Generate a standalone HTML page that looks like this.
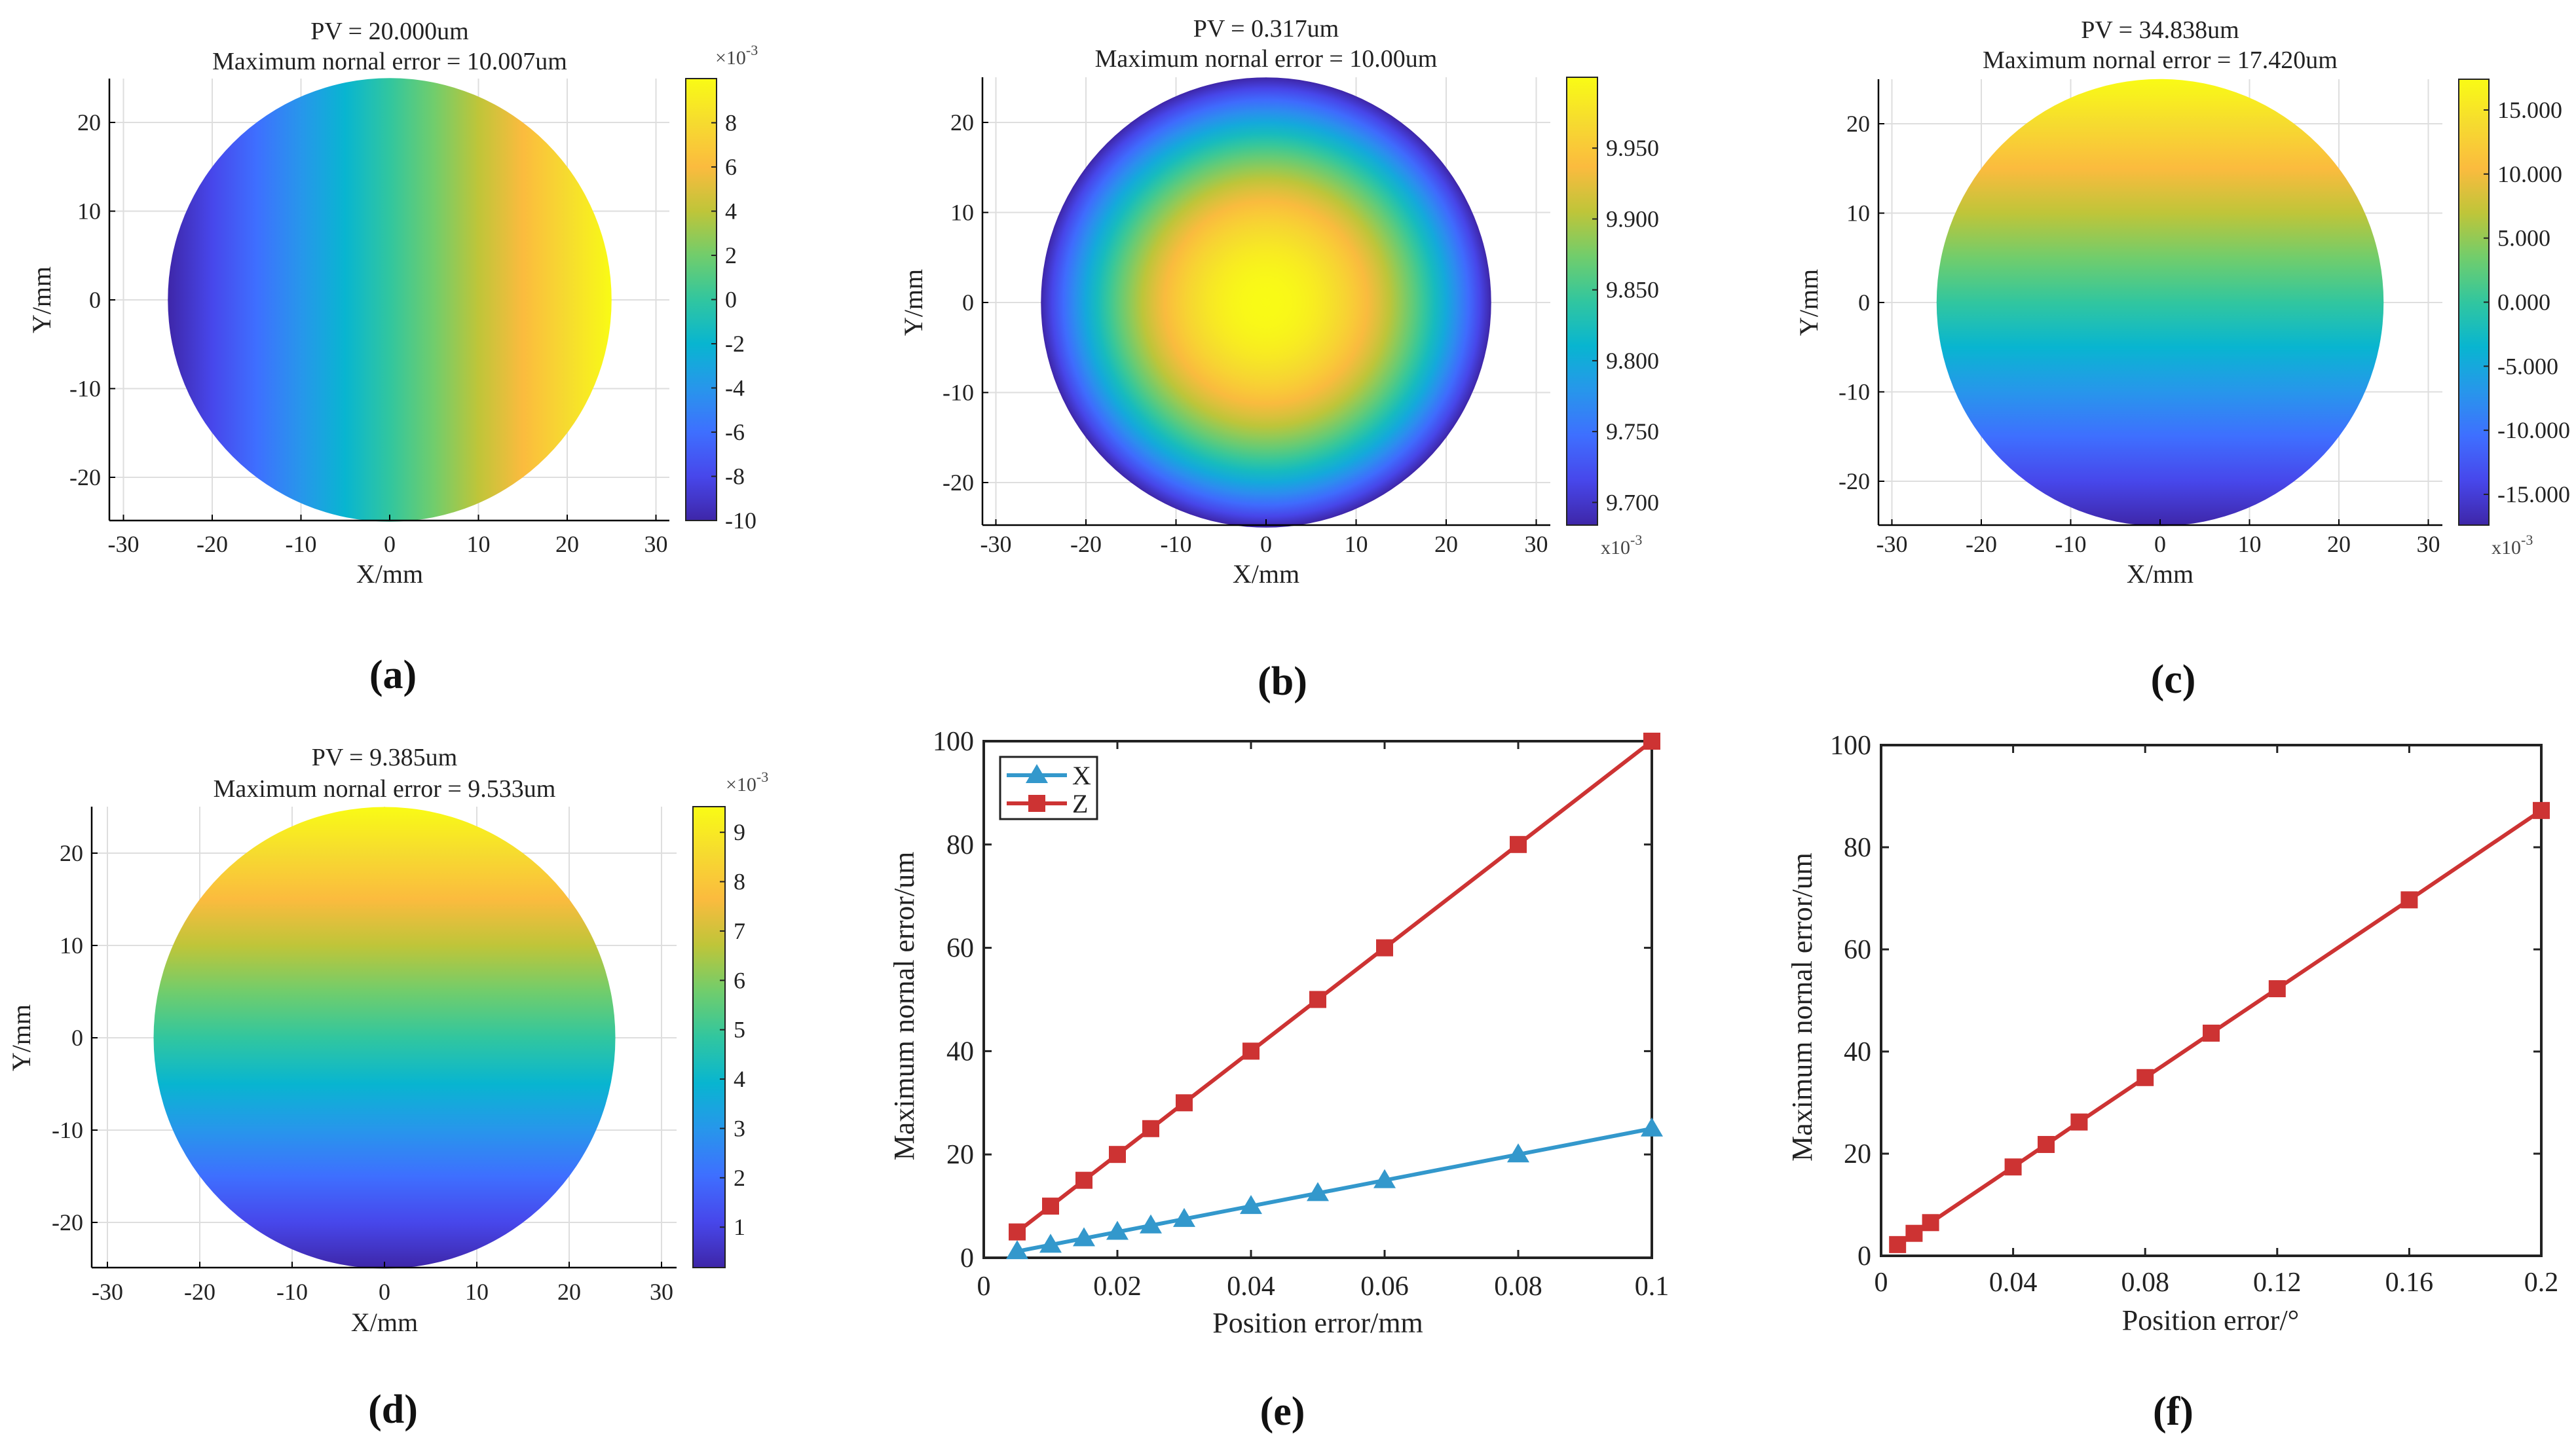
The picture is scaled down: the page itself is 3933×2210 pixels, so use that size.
<!DOCTYPE html>
<html><head><meta charset="utf-8">
<style>
html,body{margin:0;padding:0;background:#fff;}
svg{display:block;font-family:"Liberation Serif",serif;}
svg text{font-family:"Liberation Serif",serif;}
</style></head>
<body>
<svg id="fig" width="3933" height="2210" viewBox="0 0 3933 2210" font-family="Liberation Serif, serif" xmlns="http://www.w3.org/2000/svg">
<defs id="defs"></defs>
</svg>
<script>
// ---- data for chart (e) ----
const eX = [0.005,0.01,0.015,0.02,0.025,0.03,0.04,0.05,0.06,0.08,0.1];
const eSeriesX = [1.25,2.5,3.75,5,6.25,7.5,10,12.5,15,20,25];
const eSeriesZ = [5,10,15,20,25,30,40,50,60,80,100];
const eXTicks = [0,0.02,0.04,0.06,0.08,0.1];
const eXTickLabels = ["0","0.02","0.04","0.06","0.08","0.1"];
const eYTicks = [0,20,40,60,80,100];
// ---- data for chart (f) ----
const fX = [0.005,0.01,0.015,0.04,0.05,0.06,0.08,0.1,0.12,0.16,0.2];
const fY = [2.2,4.4,6.5,17.4,21.8,26.2,34.9,43.6,52.3,69.7,87.2];
const fXTicks = [0,0.04,0.08,0.12,0.16,0.2];
const fXTickLabels = ["0","0.04","0.08","0.12","0.16","0.2"];
const fYTicks = [0,20,40,60,80,100];
// ---- heatmap colorbar ticks ----
const aCbTicks = [-10,-8,-6,-4,-2,0,2,4,6,8];
const bCbTicks = [9.70,9.75,9.80,9.85,9.90,9.95];
const cCbTicks = [-15,-10,-5,0,5,10,15];
const dCbTicks = [1,2,3,4,5,6,7,8,9];
const mapXTicks = [-30,-20,-10,0,10,20,30];
const mapYTicks = [-20,-10,0,10,20];

const NS="http://www.w3.org/2000/svg";
const svg=document.getElementById('fig');
const defs=document.getElementById('defs');
function el(tag,attrs,parent,text){const e=document.createElementNS(NS,tag);for(const k in attrs)e.setAttribute(k,attrs[k]);if(text!==undefined)e.textContent=text;(parent||svg).appendChild(e);return e;}

const parula=[[0,0x3e,0x26,0xa8],[0.1,0x47,0x47,0xeb],[0.2,0x3e,0x6f,0xff],[0.3,0x27,0x96,0xeb],[0.4,0x08,0xb5,0xd0],[0.5,0x31,0xc6,0x9f],[0.6,0x71,0xcd,0x6c],[0.7,0xbf,0xc5,0x39],[0.8,0xfb,0xbb,0x3e],[0.9,0xf6,0xdb,0x2f],[1,0xf9,0xfb,0x15]];
function pc(t){t=Math.max(0,Math.min(1,t));for(let i=0;i<parula.length-1;i++){const a=parula[i],b=parula[i+1];if(t<=b[0]){const u=(t-a[0])/(b[0]-a[0]);const c=[1,2,3].map(j=>Math.round(a[j]+(b[j]-a[j])*u));return 'rgb('+c.join(',')+')';}}return 'rgb(249,251,21)';}

function linGrad(id,x1,y1,x2,y2,t0,t1){const g=el('linearGradient',{id:id,x1:x1,y1:y1,x2:x2,y2:y2},defs);for(let i=0;i<=20;i++){const o=i/20;el('stop',{offset:o,'stop-color':pc(t0+(t1-t0)*o)},g);}}
function radGrad(id){const g=el('radialGradient',{id:id,cx:0.5,cy:0.5,r:0.5},defs);for(let i=0;i<=20;i++){const o=i/20;el('stop',{offset:o,'stop-color':pc(1-o*o)},g);}}

function heatPanel(p){
  const g=el('g',{});
  
  
  const X=v=>p.cx0+p.s*v, Y=v=>p.cy0-p.s*v;
  mapXTicks.forEach(v=>{const l=el('line',{x1:X(v),x2:X(v),y1:p.T,y2:p.B,stroke:'#dedede','stroke-width':2},g);});
  mapYTicks.forEach(v=>{const l=el('line',{x1:p.L,x2:p.R,y1:Y(v),y2:Y(v),stroke:'#dedede','stroke-width':2},g);});
  const c=el('circle',{cx:X(0),cy:Y(0),r:25*p.s,fill:'url(#'+p.grad+')'},g);
  
  
  el('line',{x1:p.L,x2:p.R,y1:p.B,y2:p.B,stroke:'#000','stroke-width':2.5},g);
  el('line',{x1:p.L,x2:p.L,y1:p.T,y2:p.B,stroke:'#000','stroke-width':2.5},g);
  mapXTicks.forEach(v=>{el('line',{x1:X(v),x2:X(v),y1:p.B,y2:p.B-9,stroke:'#000','stroke-width':2},g);
    const t=el('text',{x:X(v),y:p.xtb,'font-size':36,'text-anchor':'middle',fill:'#222'},g,String(v));});
  mapYTicks.forEach(v=>{el('line',{x1:p.L,x2:p.L+9,y1:Y(v),y2:Y(v),stroke:'#000','stroke-width':2},g);
    const t=el('text',{x:p.L-13,y:Y(v)+12,'font-size':36,'text-anchor':'end',fill:'#222'},g,String(v));});
  const xl=el('text',{x:X(0),y:p.xlb,'font-size':40,'text-anchor':'middle',fill:'#222'},g,'X/mm');
  const yl=el('text',{x:p.ylx,y:Y(0),'font-size':40,'text-anchor':'middle',fill:'#222',transform:'rotate(-90 '+p.ylx+' '+Y(0)+')'},g,'Y/mm');
  const t1=el('text',{x:p.tcx,y:p.t1,'font-size':38,'text-anchor':'middle',fill:'#222'},g,p.title1);
  const t2=el('text',{x:p.tcx,y:p.t2,'font-size':38,'text-anchor':'middle',fill:'#222'},g,p.title2);
  const cb=el('rect',{x:p.cbx,y:p.T,width:p.cbw,height:p.B-p.T,fill:'url(#'+p.cbgrad+')',stroke:'#222','stroke-width':2},g);
  
  
  const CY=v=>p.B-(v-p.vmin)/(p.vmax-p.vmin)*(p.B-p.T);
  p.cbTicks.forEach(v=>{el('line',{x1:p.cbx+p.cbw,x2:p.cbx+p.cbw-8,y1:CY(v),y2:CY(v),stroke:'#222','stroke-width':2},g);
    const t=el('text',{x:p.cbx+p.cbw+13,y:CY(v)+12,'font-size':36,fill:'#222'},g,p.fmt(v));});
  const ex=el('text',{x:p.expx,y:p.expy,'font-size':30,fill:'#444'},g);
  ex.appendChild(document.createTextNode(p.expPre+'10'));
  el('tspan',{dy:-14,'font-size':22},ex,'-3');
  const pl=el('text',{x:p.lx,y:p.ly,'font-size':62,'font-weight':'bold','text-anchor':'middle',fill:'#111'},g,p.label);
}

linGrad('ga',0,0,1,0,0,1);
radGrad('gb');
linGrad('gc',0,1,0,0,0,1);
linGrad('gd',0,1,0,0,0,1);
linGrad('cbg',0,1,0,0,0,1);

const intf=v=>String(v), f2=v=>v.toFixed(3);
heatPanel({name:'panel-a',L:167,R:1022,T:120,B:795,cx0:595,cy0:458,s:13.55,grad:'ga',cbgrad:'cbg',cbx:1047,cbw:47,vmin:-10,vmax:10,cbTicks:aCbTicks,fmt:intf,expPre:'\u00d7',expx:1092,expy:98,title1:'PV = 20.000um',title2:'Maximum nornal error = 10.007um',tcx:595,t1:60,t2:106,xtb:843,xlb:890,ylx:77,lx:600,ly:1051,label:'(a)'});
heatPanel({name:'panel-b',L:1500,R:2367,T:118,B:802,cx0:1933,cy0:462,s:13.75,grad:'gb',cbgrad:'cbg',cbx:2392,cbw:47,vmin:9.684,vmax:10.0,cbTicks:bCbTicks,fmt:f2,expPre:'x',expx:2444,expy:846,title1:'PV = 0.317um',title2:'Maximum nornal error = 10.00um',tcx:1933,t1:56,t2:102,xtb:843,xlb:890,ylx:1408,lx:1958,ly:1061,label:'(b)'});
heatPanel({name:'panel-c',L:2868,R:3729,T:121,B:802,cx0:3298,cy0:462,s:13.65,grad:'gc',cbgrad:'cbg',cbx:3754,cbw:46,vmin:-17.4,vmax:17.4,cbTicks:cCbTicks,fmt:f2,expPre:'x',expx:3804,expy:846,title1:'PV = 34.838um',title2:'Maximum nornal error = 17.420um',tcx:3298,t1:58,t2:104,xtb:843,xlb:890,ylx:2775,lx:3318,ly:1058,label:'(c)'});
heatPanel({name:'panel-d',L:140,R:1033,T:1232,B:1936,cx0:587,cy0:1585,s:14.1,grad:'gd',cbgrad:'cbg',cbx:1058,cbw:49,vmin:0.18,vmax:9.52,cbTicks:dCbTicks,fmt:intf,expPre:'\u00d7',expx:1108,expy:1208,title1:'PV = 9.385um',title2:'Maximum nornal error = 9.533um',tcx:587,t1:1169,t2:1217,xtb:1985,xlb:2033,ylx:46,lx:600,ly:2173,label:'(d)'});

function lineChart(p){
  const g=el('g',{});
  
  
  const X=v=>p.L+(v-p.xmin)/(p.xmax-p.xmin)*(p.R-p.L), Y=v=>p.B-(v-p.ymin)/(p.ymax-p.ymin)*(p.B-p.T);
  el('rect',{x:p.L,y:p.T,width:p.R-p.L,height:p.B-p.T,fill:'none',stroke:'#222','stroke-width':4},g);
  p.xTicks.forEach((v,i)=>{el('line',{x1:X(v),x2:X(v),y1:p.B,y2:p.B-12,stroke:'#222','stroke-width':3},g);el('line',{x1:X(v),x2:X(v),y1:p.T,y2:p.T+12,stroke:'#222','stroke-width':3},g);
    const t=el('text',{x:X(v),y:p.xtb,'font-size':42,'text-anchor':'middle',fill:'#222'},g,p.xTickLabels[i]);});
  p.yTicks.forEach(v=>{el('line',{x1:p.L,x2:p.L+12,y1:Y(v),y2:Y(v),stroke:'#222','stroke-width':3},g);el('line',{x1:p.R,x2:p.R-12,y1:Y(v),y2:Y(v),stroke:'#222','stroke-width':3},g);
    const t=el('text',{x:p.L-15,y:Y(v)+14,'font-size':42,'text-anchor':'end',fill:'#222'},g,String(v));});
  p.series.forEach(s=>{
    const pts=p.x.map((v,i)=>X(v)+','+Y(s.y[i])).join(' ');
    const pl=el('polyline',{points:pts,fill:'none',stroke:s.color,'stroke-width':6},g);
    
    
    p.x.forEach((v,i)=>{const cx=X(v),cy=Y(s.y[i]);let m;
      if(s.marker==='sq'){m=el('rect',{x:cx-13,y:cy-13,width:26,height:26,fill:s.color},g);}
      else{m=el('polygon',{points:(cx)+','+(cy-17)+' '+(cx-17)+','+(cy+12)+' '+(cx+17)+','+(cy+12),fill:s.color},g);}
      
      });
  });
  const xl=el('text',{x:p.xlx,y:p.xlb,'font-size':44,'text-anchor':'middle',fill:'#222'},g,p.xlabel);
  const yc=(p.T+p.B)/2+10;
  const yl=el('text',{x:p.ylx,y:yc,'font-size':44,'text-anchor':'middle',fill:'#222',transform:'rotate(-90 '+p.ylx+' '+yc+')'},g,'Maximum nornal error/um');
  if(p.legend){
    const lg=el('g',{},g);
    
    
    el('rect',{x:1527,y:1156,width:148,height:95,fill:'#fff',stroke:'#222','stroke-width':3},lg);
    p.series.forEach((s,i)=>{const y=1184+i*43;
      const le=el('g',{},lg);
      
      
      el('line',{x1:1537,x2:1629,y1:y,y2:y,stroke:s.color,'stroke-width':6},le);
      if(s.marker==='sq')el('rect',{x:1570,y:y-13,width:26,height:26,fill:s.color},le);
      else el('polygon',{points:'1583,'+(y-17)+' 1566,'+(y+12)+' 1600,'+(y+12),fill:s.color},le);
      el('text',{x:1637,y:y+14,'font-size':40,fill:'#222'},le,s.name);});
  }
  const pl=el('text',{x:p.lx,y:p.ly,'font-size':62,'font-weight':'bold','text-anchor':'middle',fill:'#111'},g,p.label);
}

lineChart({name:'panel-e',L:1502,R:2522,T:1132,B:1921,xmin:0,xmax:0.1,ymin:0,ymax:100,xTicks:eXTicks,xTickLabels:eXTickLabels,yTicks:eYTicks,xtb:1978,x:eX,
  series:[{name:'X',y:eSeriesX,color:'#3398cc',marker:'tri'},{name:'Z',y:eSeriesZ,color:'#cd3333',marker:'sq'}],
  xlabel:'Position error/mm',xlx:2012,xlb:2035,ylx:1395,legend:true,lx:1958,ly:2176,label:'(e)'});
lineChart({name:'panel-f',L:2872,R:3880,T:1138,B:1918,xmin:0,xmax:0.2,ymin:0,ymax:100,xTicks:fXTicks,xTickLabels:fXTickLabels,yTicks:fYTicks,xtb:1972,x:fX,
  series:[{name:'f',y:fY,color:'#cd3333',marker:'sq'}],
  xlabel:'Position error/\u00b0',xlx:3375,xlb:2031,ylx:2766,legend:false,lx:3318,ly:2176,label:'(f)'});
</script>
</body></html>
